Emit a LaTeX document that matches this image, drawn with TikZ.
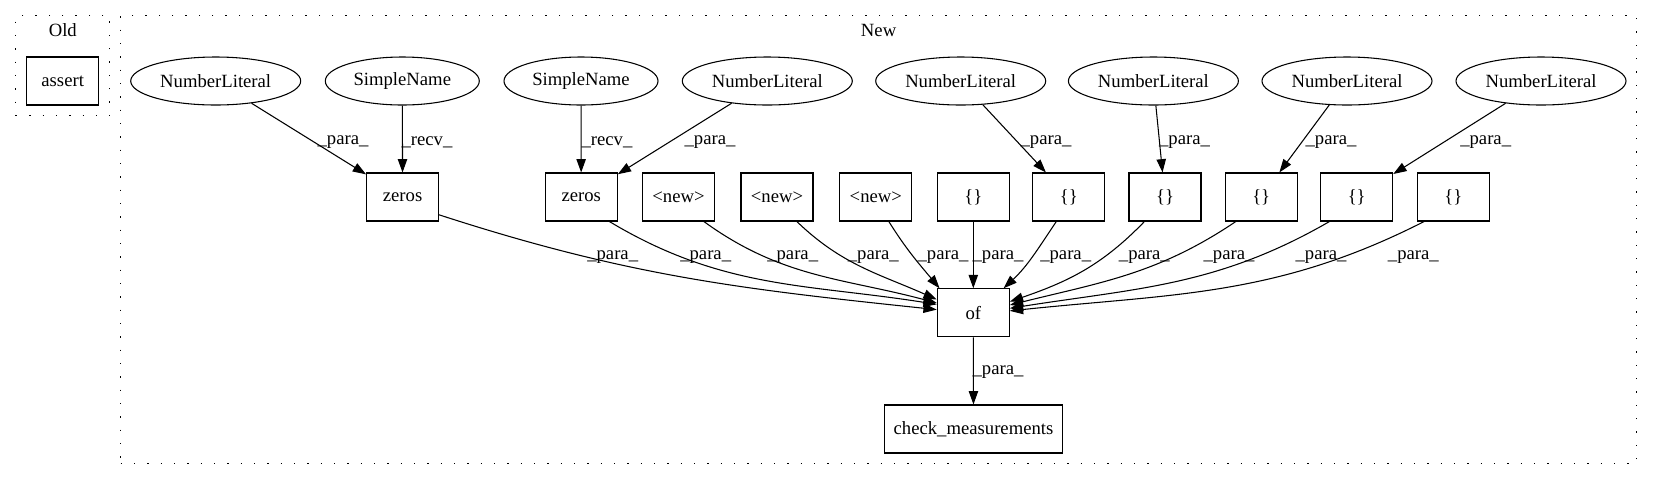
\documentclass[tikz,border=0pt]{standalone}
\usepackage{fontspec}
\setmainfont{Liberation Serif}
\usepackage{tikz}
\usetikzlibrary{arrows.meta,shapes.geometric}

\begin{document}
\begin{tikzpicture}[
      x=0.75pt, y=0.75pt,
      font=\rmfamily\fontsize{14pt}{16pt}\selectfont,
      >={Triangle[length=10pt,width=7pt]},
      ast/.style={draw, ellipse, inner sep=0pt, minimum height=36pt, line width=0.8pt},
      numlit/.style={ast, minimum width=127.5pt},
      sname/.style={ast, minimum width=115.5pt},
      op/.style={draw, inner sep=0pt, minimum width=54pt, minimum height=36pt, line width=0.8pt},
      cluster/.style={draw, inner sep=0pt, line width=0.8pt, dash pattern=on 1pt off 9pt},
      flow/.style={->, line width=0.8pt},
      lbl/.style={inner sep=0pt},
    ]
    \useasboundingbox (0,0) rectangle (1653,-480);

    % --- clusters ------------------------------------------------------------------
    \node[cluster, minimum width=70.3pt, minimum height=75pt] (old) at (62.8,-65.7) {};
    \node (oldlbl) at (62.8,-30) {Old};
    \node[op] (assert) at (62.7,-81) {assert};

    \node[cluster, minimum width=1136.9pt, minimum height=335.7pt] (new) at (878.6,-239.5) {};
    \node (newlbl) at (878.6,-30) {New};

    % --- row 1: leaves ---------------------------------------------------------------
    \node[numlit] (nl1) at (215.7,-81) {NumberLiteral};
    \node[sname] (sn1) at (402.3,-81) {SimpleName};
    \node[sname] (sn2) at (581,-81) {SimpleName};
    \node[numlit] (nl2) at (767.3,-81) {NumberLiteral};
    \node[numlit] (nl3) at (960.7,-81) {NumberLiteral};
    \node[numlit] (nl4) at (1153.4,-81) {NumberLiteral};
    \node[numlit] (nl5) at (1347,-81) {NumberLiteral};
    \node[numlit] (nl6) at (1541,-81) {NumberLiteral};

    % --- row 2: arguments ------------------------------------------------------------
    \node[op] (zeros1) at (402.6,-197) {zeros};
    \node[op] (zeros2) at (581.2,-197) {zeros};
    \node[op] (new1) at (678.5,-197) {<new>};
    \node[op] (new2) at (777,-197) {<new>};
    \node[op] (new3) at (875.8,-197) {<new>};
    \node[op] (br1) at (973.3,-197) {\{\}};
    \node[op] (br2) at (1068.8,-197) {\{\}};
    \node[op] (br3) at (1165,-197) {\{\}};
    \node[op] (br4) at (1261.2,-197) {\{\}};
    \node[op] (br5) at (1356.7,-197) {\{\}};
    \node[op] (br6) at (1453.3,-197) {\{\}};

    % --- row 3 and 4 -----------------------------------------------------------------
    \node[op] (of) at (973.3,-312.8) {of};
    \node[op, minimum width=134pt] (check) at (973.5,-429) {check\_measurements};

    \draw[flow] (nl1) -- (zeros1) node[lbl] at (343,-142) {\_para\_};
    \draw[flow] (sn1) -- (zeros1) node[lbl] at (427,-142) {\_recv\_};
    \draw[flow] (sn2) -- (zeros2) node[lbl] at (607,-142) {\_recv\_};
    \draw[flow] (nl2) -- (zeros2) node[lbl] at (710,-142) {\_para\_};
    \draw[flow] (nl3) -- (br2) node[lbl] at (1046,-142) {\_para\_};
    \draw[flow] (nl4) -- (br3) node[lbl] at (1184.5,-142) {\_para\_};
    \draw[flow] (nl5) -- (br4) node[lbl] at (1331,-142) {\_para\_};
    \draw[flow] (nl6) -- (br5) node[lbl] at (1485.7,-142) {\_para\_};

    % fan into of
    \draw[flow] (zeros1.-26) to[out=-18, in=174] (of.175) node[lbl] at (612.7,-257) {\_para\_};
    \draw[flow] (zeros2.-41) to[out=-31, in=171] (of.167) node[lbl] at (705.7,-257) {\_para\_};
    \draw[flow] (new1.-44) to[out=-36, in=165] (of.165) node[lbl] at (792.7,-257) {\_para\_};
    \draw[flow] (new2.-51) to[out=-44, in=156] (of.160) node[lbl] at (873.3,-257) {\_para\_};
    \draw[flow] (new3.-62) to[out=-58, in=130] (of.144) node[lbl] at (943,-257) {\_para\_};
    \draw[flow] (br1) -- (of) node[lbl] at (998,-257) {\_para\_};
    \draw[flow] (br2.-117) to[out=-124, in=43] (of.39) node[lbl] at (1065.7,-257) {\_para\_};
    \draw[flow] (br3.-130) to[out=-134, in=19] (of.17) node[lbl] at (1144.3,-257) {\_para\_};
    \draw[flow] (br4.-136) to[out=-146, in=14] (of.12) node[lbl] at (1229,-257) {\_para\_};
    \draw[flow] (br5.-138) to[out=-150, in=9] (of.7) node[lbl] at (1321,-257) {\_para\_};
    \draw[flow] (br6.-140) to[out=-153, in=6] (of.3) node[lbl] at (1413.3,-257) {\_para\_};

    \draw[flow] (of) -- (check) node[lbl] at (998,-371.7) {\_para\_};
  \end{tikzpicture}
\end{document}
